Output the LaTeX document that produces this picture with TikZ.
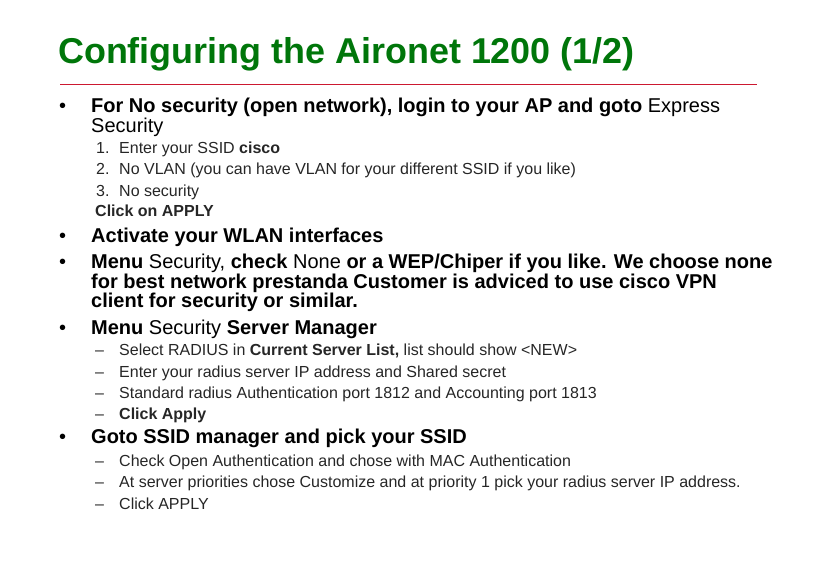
\documentclass[tikz,border=0pt]{standalone}
\usepackage{fontspec}
\setmainfont{Liberation Sans}
\definecolor{titlegreen}{RGB}{0,118,10}
\definecolor{rulered}{RGB}{204,24,48}
\tikzset{
	bigline/.style={anchor=base west, inner sep=0pt, font=\fontsize{20}{24}\selectfont},
	smallline/.style={anchor=base west, inner sep=0pt, font=\fontsize{16}{19}\selectfont, text=black!85},
}
\begin{document}
\begin{tikzpicture}[x=1pt,y=-1pt]
	%%%%% START %%%%%
	\useasboundingbox (0, 0) rectangle (818, 578);

	\node[anchor=base west, inner sep=0pt, font=\fontsize{35.9}{42}\bfseries\selectfont, text=titlegreen] (title) at (58, 63.5) {Configuring the Aironet 1200 (1/2)};
	\draw[line width=1.8pt, color=rulered] (60, 84.5) -- (757, 84.5);

	\node[bigline] (b1) at (59, 112) {•};
	\node[bigline] (l1) at (91, 112) {\textbf{For No security (open network), login to your AP and goto} Express};
	\node[bigline] (l1b) at (91, 132) {Security};

	\node[smallline] (n1) at (96, 153) {1.};
	\node[smallline] (t1) at (119, 153) {Enter your SSID \textbf{cisco}};
	\node[smallline] (n2) at (96, 174) {2.};
	\node[smallline] (t2) at (119, 174) {No VLAN (you can have VLAN for your different SSID if you like)};
	\node[smallline] (n3) at (96, 196) {3.};
	\node[smallline] (t3) at (119, 196) {No security};
	\node[smallline] (t4) at (95, 216) {\textbf{Click on APPLY}};

	\node[bigline] (b2) at (59, 242) {•};
	\node[bigline] (l2) at (91, 242) {\textbf{Activate your WLAN interfaces}};
	\node[bigline] (b3) at (59, 268.5) {•};
	\node[bigline] (l3) at (91, 268.5) {\textbf{Menu} Security, \textbf{check} None \textbf{or a WEP/Chiper if you like. We choose none}};
	\node[bigline] (l3b) at (91, 288) {\textbf{for best network prestanda Customer is adviced to use cisco VPN}};
	\node[bigline] (l3c) at (91, 307) {\textbf{client for security or similar.}};
	\node[bigline] (b4) at (59, 334) {•};
	\node[bigline] (l4) at (91, 334) {\textbf{Menu} Security \textbf{Server Manager}};

	\node[smallline] (d1) at (95, 355) {--};
	\node[smallline] (s1) at (119, 355) {Select RADIUS in \textbf{Current Server List,} list should show <NEW>};
	\node[smallline] (d2) at (95, 377) {--};
	\node[smallline] (s2) at (119, 377) {Enter your radius server IP address and Shared secret};
	\node[smallline] (d3) at (95, 398) {--};
	\node[smallline] (s3) at (119, 398) {Standard radius Authentication port 1812 and Accounting port 1813};
	\node[smallline] (d4) at (95, 419) {--};
	\node[smallline] (s4) at (119, 419) {\textbf{Click Apply}};

	\node[bigline] (b5) at (59, 443.5) {•};
	\node[bigline] (l5) at (91, 443.5) {\textbf{Goto SSID manager and pick your SSID}};

	\node[smallline] (d5) at (95, 466) {--};
	\node[smallline] (u1) at (119, 466) {Check Open Authentication and chose with MAC Authentication};
	\node[smallline] (d6) at (95, 487) {--};
	\node[smallline] (u2) at (119, 487) {At server priorities chose Customize and at priority 1 pick your radius server IP address.};
	\node[smallline] (d7) at (95, 509) {--};
	\node[smallline] (u3) at (119, 509) {Click APPLY};
	%%%%% END %%%%%
\end{tikzpicture}
\end{document}
